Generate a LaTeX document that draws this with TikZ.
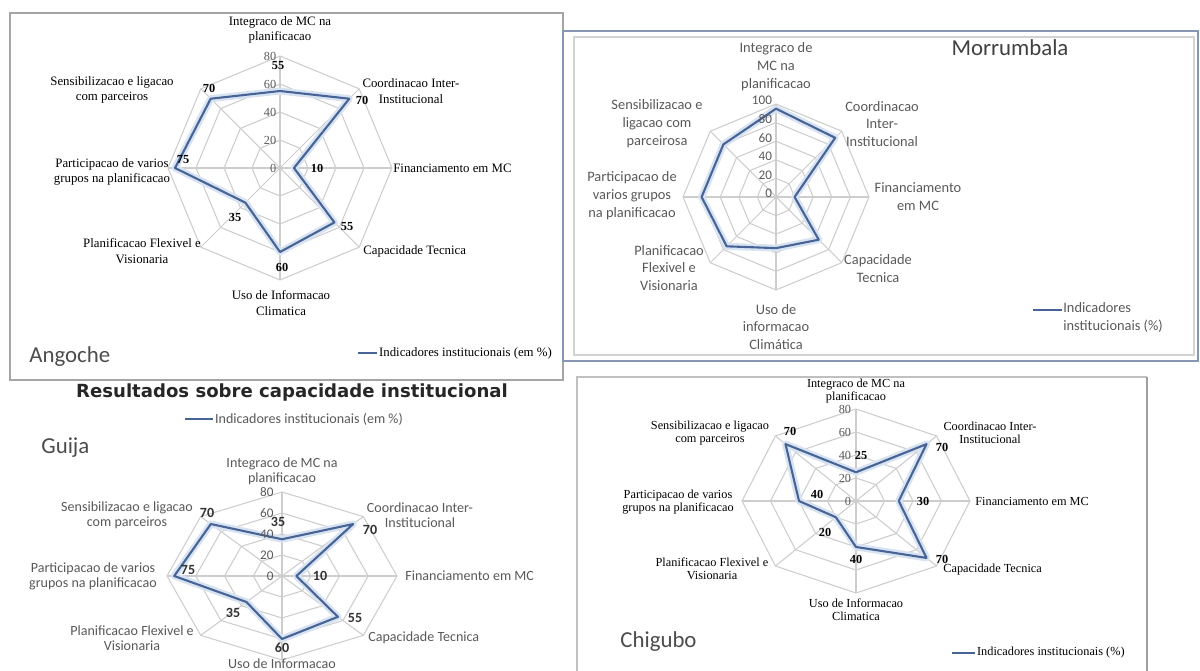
\documentclass[tikz,border=0pt]{standalone}
\usepackage{fontspec}
\setmainfont{Liberation Serif}
\newfontfamily\calibri{Carlito}
\newfontfamily\verdana{DejaVu Sans}
\usetikzlibrary{positioning}

\definecolor{lineblue}{RGB}{72,100,150}
\definecolor{haloblue}{RGB}{216,227,242}
\definecolor{webgray}{RGB}{205,205,205}
\definecolor{txtgray}{RGB}{89,89,89}
\definecolor{boxgray}{RGB}{165,165,165}
\definecolor{boxblue}{RGB}{135,150,178}

% spider web: rings and spokes, unit radius
\newcommand{\radarweb}[1]{%
  \foreach \k in {1,...,#1}
    \draw[webline] (90:{\k/#1}) -- (45:{\k/#1}) -- (0:{\k/#1}) -- (-45:{\k/#1})
      -- (-90:{\k/#1}) -- (-135:{\k/#1}) -- (180:{\k/#1}) -- (135:{\k/#1}) -- cycle;
  \foreach \a in {90,45,...,-225}
    \draw[webline] (0,0) -- (\a:1);
}
% data polygon, clockwise from the top
\newcommand{\dataloop}[8]{(90:{#1}) -- (45:{#2}) -- (0:{#3}) -- (-45:{#4}) -- (-90:{#5}) -- (-135:{#6}) -- (180:{#7}) -- (135:{#8}) -- cycle}

\begin{document}
\begin{tikzpicture}[x=0.02cm, y=-0.02cm,
    webline/.style={draw=webgray, line width=0.6pt},
    halo/.style={draw=haloblue, line width=4pt, line join=round},
    dataline/.style={draw=lineblue, line width=1.2pt, line join=round},
    tnr/.style={font=\fontsize{7.3}{8.8}\selectfont, align=center, inner sep=0pt},
    tnrsmall/.style={font=\fontsize{7}{7.4}\selectfont, align=center, inner sep=0pt},
    tnrval/.style={font=\fontsize{7}{8}\selectfont\bfseries, inner sep=0pt},
    tnrgrid/.style={font=\fontsize{7}{8}\selectfont, text=txtgray, inner sep=0pt, anchor=east},
    cal/.style={font=\calibri\fontsize{8.2}{10.2}\selectfont, text=txtgray, align=center, inner sep=0pt},
    calsmall/.style={font=\calibri\fontsize{8}{8.6}\selectfont, text=txtgray, align=center, inner sep=0pt},
    calval/.style={font=\calibri\fontsize{8}{8}\selectfont\bfseries, text=black!80, inner sep=0pt},
    calgrid/.style={font=\calibri\fontsize{7.5}{8}\selectfont, text=txtgray, inner sep=0pt, anchor=east},
    place/.style={font=\calibri\fontsize{13}{14}\selectfont, text=black!70, inner sep=0pt, anchor=west}]

  \clip (0,0) rectangle (1200,671);

  % ---------------- Angoche ----------------
  \draw[boxgray, line width=1pt] (10,13) rectangle (563,380);
  \begin{scope}[shift={(280,168)}, x={(2.24cm,0)}, y={(0,2.24cm)}]
    \radarweb{4}
    \draw[halo] \dataloop{55/80}{70/80}{10/80}{55/80}{60/80}{35/80}{75/80}{70/80};
    \draw[dataline] \dataloop{55/80}{70/80}{10/80}{55/80}{60/80}{35/80}{75/80}{70/80};
    \foreach \v [count=\i from 0] in {0,20,40,60,80}
      \node[tnrgrid] (ang-g\v) at (-0.03,{\i/4}) {\v};
  \end{scope}
  \node[tnr] (ang-int) at (280,30) {Integraco de MC na\\planificacao};
  \node[tnr] (ang-coo) at (411,91) {Coordinacao Inter-\\Institucional};
  \node[tnr, anchor=west] (ang-fin) at (393,168) {Financiamento em MC};
  \node[tnr, anchor=west] (ang-cap) at (363,251) {Capacidade Tecnica};
  \node[tnr] (ang-uso) at (281,303) {Uso de Informacao\\Climatica};
  \node[tnr] (ang-pla) at (142,251) {Planificacao Flexivel e\\Visionaria};
  \node[tnr] (ang-par) at (112,172) {Participacao de varios\\grupos na planificacao};
  \node[tnr] (ang-sen) at (112,90) {Sensibilizacao e ligacao\\com parceiros};
  % values
  \node[tnrval] (ang-v1) at (278,66) {55};
  \node[tnrval] (ang-v2) at (362,100) {70};
  \node[tnrval] (ang-v3) at (317,168) {10};
  \node[tnrval] (ang-v4) at (347,227) {55};
  \node[tnrval] (ang-v5) at (282,267) {60};
  \node[tnrval] (ang-v6) at (235,217) {35};
  \node[tnrval] (ang-v7) at (183,160) {75};
  \node[tnrval] (ang-v8) at (209,88) {70};
  % legend and name
  \coordinate (ang-la) at (358,353);
  \coordinate (ang-lb) at (377,353);
  \draw[dataline] (ang-la) -- (ang-lb);
  \node[tnr, right=1pt of ang-lb] (ang-leg) {Indicadores institucionais (em \%)};
  \node[place] (ang-name) at (29,357) {Angoche};

  % ---------------- Morrumbala ----------------
  \draw[boxblue, line width=1.2pt] (563,31) rectangle (1198,361);
  \draw[gray!35, line width=0.8pt] (574,37) rectangle (1194,355);
  \begin{scope}[shift={(776,197)}, x={(1.86cm,0)}, y={(0,1.86cm)}]
    \radarweb{5}
    \draw[halo] \dataloop{0.95}{0.90}{0.20}{0.65}{0.55}{0.75}{0.80}{0.80};
    \draw[dataline] \dataloop{0.95}{0.90}{0.20}{0.65}{0.55}{0.75}{0.80}{0.80};
    \foreach \v [count=\i from 0] in {0,20,40,60,80,100}
      \node[calgrid, yshift=2pt] (mor-g\v) at (-0.04,{\i/5}) {\v};
  \end{scope}
  \node[cal] (mor-int) at (776,67) {Integraco de\\MC na\\planificacao};
  \node[cal] (mor-coo) at (882,124) {Coordinacao\\Inter-\\Institucional};
  \node[cal] (mor-fin) at (918,197) {Financiamento\\em MC};
  \node[cal] (mor-cap) at (878,269) {Capacidade\\Tecnica};
  \node[cal] (mor-uso) at (776,327) {Uso de\\informacao\\Climática};
  \node[cal] (mor-pla) at (669,268) {Planificacao\\Flexivel e\\Visionaria};
  \node[cal] (mor-par) at (632,196) {Participacao de\\varios grupos\\na planificacao};
  \node[cal] (mor-sen) at (657,124) {Sensibilizacao e\\ligacao com\\parceirosa};
  \node[font=\calibri\fontsize{13}{14}\selectfont, text=black!75, inner sep=0pt] (mor-name) at (1010,48) {Morrumbala};
  \coordinate (mor-la) at (1033,310);
  \coordinate (mor-lb) at (1062,310);
  \draw[dataline] (mor-la) -- (mor-lb);
  \node[cal, align=left, anchor=north west] (mor-leg) at (1063,302) {Indicadores\\institucionais (\%)};

  % ---------------- Guija ----------------
  \node[font=\verdana\bfseries\fontsize{10.3}{11}\selectfont, text=black!85, inner sep=0pt] (title) at (292,393)
    {Resultados sobre capacidade institucional};
  \coordinate (gui-la) at (185,419);
  \coordinate (gui-lb) at (213,419);
  \draw[dataline] (gui-la) -- (gui-lb);
  \node[calsmall, right=1pt of gui-lb] (gui-leg) {Indicadores institucionais (em \%)};
  \node[place] (gui-name) at (41,448) {Guija};
  \begin{scope}[shift={(282,576)}, x={(2.3cm,0)}, y={(0,1.68cm)}]
    \radarweb{4}
    \draw[halo] \dataloop{35/80}{70/80}{10/80}{55/80}{60/80}{35/80}{75/80}{70/80};
    \draw[dataline] \dataloop{35/80}{70/80}{10/80}{55/80}{60/80}{35/80}{75/80}{70/80};
    \foreach \v [count=\i from 0] in {0,20,40,60,80}
      \node[calgrid] (gui-g\v) at (-0.07,{\i/4}) {\v};
  \end{scope}
  \node[calsmall] (gui-int) at (282,471) {Integraco de MC na\\planificacao};
  \node[calsmall] (gui-coo) at (420,515) {Coordinacao Inter-\\Institucional};
  \node[calsmall, anchor=west] (gui-fin) at (405,576) {Financiamento em MC};
  \node[calsmall, anchor=west] (gui-cap) at (368,638) {Capacidade Tecnica};
  \node[calsmall] (gui-uso) at (282,664) {Uso de Informacao};
  \node[calsmall] (gui-pla) at (132,638) {Planificacao Flexivel e\\Visionaria};
  \node[calsmall] (gui-par) at (93,576) {Participacao de varios\\grupos na planificacao};
  \node[calsmall] (gui-sen) at (127,515) {Sensibilizacao e ligacao\\com parceiros};
  \node[calval] (gui-v1) at (278,522) {35};
  \node[calval] (gui-v2) at (370,530) {70};
  \node[calval] (gui-v3) at (320,576) {10};
  \node[calval] (gui-v4) at (355,618) {55};
  \node[calval] (gui-v5) at (282,648) {60};
  \node[calval] (gui-v6) at (233,613) {35};
  \node[calval] (gui-v7) at (188,570) {75};
  \node[calval] (gui-v8) at (207,513) {70};

  % ---------------- Chigubo ----------------
  \draw[boxgray!70, line width=0.8pt] (577,680) -- (577,377) -- (1147,377);
  \draw[gray!75, line width=1.3pt] (1147,377) -- (1147,680);
  \begin{scope}[shift={(856,501)}, x={(2.28cm,0)}, y={(0,1.84cm)}]
    \radarweb{4}
    \draw[halo] \dataloop{25/80}{70/80}{30/80}{70/80}{40/80}{20/80}{40/80}{70/80};
    \draw[dataline] \dataloop{25/80}{70/80}{30/80}{70/80}{40/80}{20/80}{40/80}{70/80};
    \foreach \v [count=\i from 0] in {0,20,40,60,80}
      \node[tnrgrid] (chi-g\v) at (-0.04,{\i/4}) {\v};
  \end{scope}
  \node[tnrsmall] (chi-int) at (856,391) {Integraco de MC na\\planificacao};
  \node[tnrsmall] (chi-coo) at (990,433) {Coordinacao Inter-\\Institucional};
  \node[tnrsmall, anchor=west] (chi-fin) at (975,501) {Financiamento em MC};
  \node[tnrsmall, anchor=west] (chi-cap) at (943,570) {Capacidade Tecnica};
  \node[tnrsmall] (chi-uso) at (856,610) {Uso de Informacao\\Climatica};
  \node[tnrsmall] (chi-pla) at (712,569) {Planificacao Flexivel e\\Visionaria};
  \node[tnrsmall] (chi-par) at (678,502) {Participacao de varios\\grupos na planificacao};
  \node[tnrsmall] (chi-sen) at (710,433) {Sensibilizacao e ligacao\\com parceiros};
  \node[tnrval] (chi-v1) at (861,455) {25};
  \node[tnrval] (chi-v2) at (942,447) {70};
  \node[tnrval] (chi-v3) at (923,501) {30};
  \node[tnrval] (chi-v4) at (942,559) {70};
  \node[tnrval] (chi-v5) at (856,559) {40};
  \node[tnrval] (chi-v6) at (825,532) {20};
  \node[tnrval] (chi-v7) at (817,494) {40};
  \node[tnrval] (chi-v8) at (790,431) {70};
  \node[place] (chi-name) at (620,642) {Chigubo};
  \coordinate (chi-la) at (952,653);
  \coordinate (chi-lb) at (975,653);
  \draw[dataline, line width=0.8pt] (chi-la) -- (chi-lb);
  \node[tnrsmall, right=1pt of chi-lb] (chi-leg) {Indicadores institucionais (\%)};
\end{tikzpicture}
\end{document}
